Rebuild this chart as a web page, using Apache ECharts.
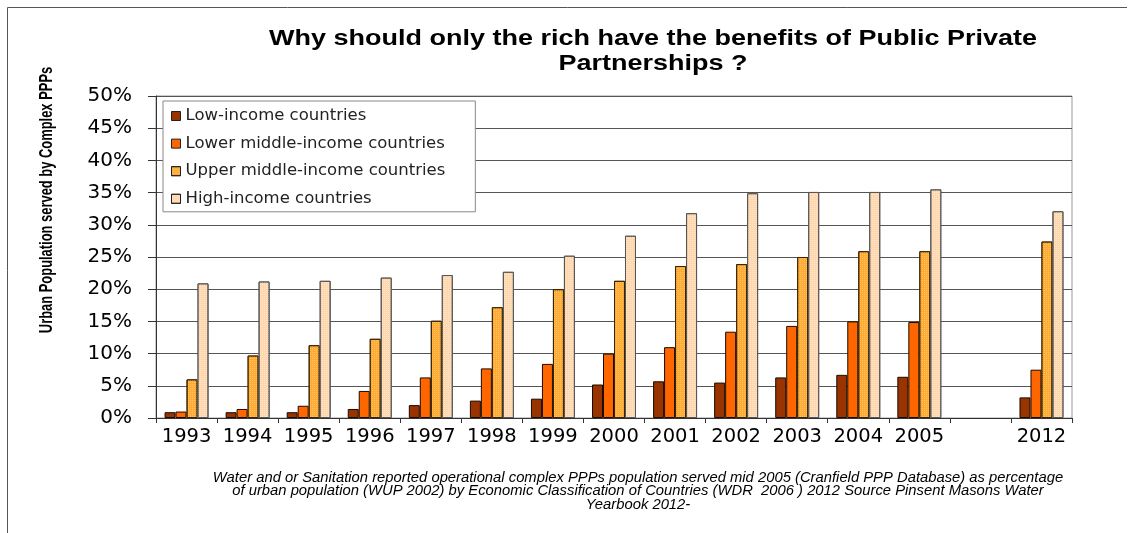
<!DOCTYPE html>
<html>
<head>
<meta charset="utf-8">
<script src="https://cdn.jsdelivr.net/npm/echarts@6/dist/echarts.min.js"></script>
<style>
  html, body { margin: 0; padding: 0; background: #fff; }
  #chart { width: 1131px; height: 533px; }
</style>
</head>
<body>
<div id="chart"></div>
<script>
// Years on the category axis; the blank entry leaves a gap before 2012
const years = ['1993', '1994', '1995', '1996', '1997', '1998', '1999', '2000',
               '2001', '2002', '2003', '2004', '2005', '', '2012'];

// Share of urban population served by complex PPPs (%), by income group
const lowIncome        = [0.9, 0.9, 0.9, 1.4, 2.0, 2.7, 3.0, 5.2, 5.7, 5.5, 6.3, 6.7, 6.4, null, 3.2];
const lowerMiddle      = [1.0, 1.4, 1.9, 4.2, 6.3, 7.7, 8.4, 10.0, 11.0, 13.4, 14.3, 15.0, 14.9, null, 7.5];
const upperMiddle      = [6.0, 9.7, 11.3, 12.3, 15.1, 17.2, 20.0, 21.3, 23.6, 23.9, 25.0, 25.9, 25.9, null, 27.4];
const highIncome       = [20.9, 21.2, 21.3, 21.8, 22.2, 22.7, 25.2, 28.3, 31.8, 34.9, 35.1, 35.1, 35.5, null, 32.1];

const seriesNames = ['Low-income countries', 'Lower middle-income countries',
                     'Upper middle-income countries', 'High-income countries'];

const yTicks = { min: 0, max: 50, interval: 5 };

const titleText = 'Why should only the rich have the benefits of Public Private\nPartnerships ?';
const yAxisTitle = 'Urban Population served by Complex PPPs';
const footnote = 'Water and or Sanitation reported operational complex PPPs population served mid 2005 (Cranfield PPP Database) as percentage\n' +
                 'of urban population (WUP 2002) by Economic Classification of Countries (WDR  2006 ) 2012 Source Pinsent Masons Water\n' +
                 'Yearbook 2012-';

const chart = echarts.init(document.getElementById('chart'), null, { renderer: 'canvas' });

function bar(name, data, color, border, decal) {
  const s = {
    name: name,
    type: 'bar',
    data: data,
    barGap: '0%',
    barCategoryGap: '28%',
    itemStyle: { color: color, borderColor: border, borderWidth: 1 }
  };
  if (decal) s.itemStyle.decal = decal;
  return s;
}

// fine speckle texture for the two lighter series
const dotDecal = (c) => ({
  symbol: 'rect',
  symbolSize: 1,
  dashArrayX: [1, 1],
  dashArrayY: [1, 1],
  color: c
});

const sans = 'Liberation Sans, Arial, sans-serif';
const wide = 'DejaVu Sans, Verdana, sans-serif';

chart.setOption({
  animation: false,
  backgroundColor: '#ffffff',
  legend: {
    orient: 'vertical',
    left: 163,
    top: 101,
    padding: [6, 30, 4, 8],
    itemWidth: 9,
    itemHeight: 9,
    itemGap: 9.6,
    itemStyle: { borderColor: '#222', borderWidth: 1 },
    icon: 'rect',
    backgroundColor: '#fff',
    borderColor: '#888',
    borderWidth: 1,
    textStyle: {
      fontFamily: wide,
      fontSize: 16.5,
      lineHeight: 18,
      color: '#222'
    },
    data: seriesNames
  },
  grid: {
    left: 156,
    right: 59,
    top: 96,
    bottom: 115,
    show: true,
    borderColor: '#999',
    borderWidth: 1
  },
  xAxis: {
    type: 'category',
    data: years,
    axisLine: { show: true, lineStyle: { color: '#333', width: 1 } },
    axisTick: { show: true, interval: 0, length: 5, lineStyle: { color: '#333' } },
    axisLabel: {
      interval: 0,
      margin: 9,
      fontFamily: wide,
      fontSize: 19.5,
      color: '#000'
    },
    splitLine: { show: false }
  },
  yAxis: {
    type: 'value',
    min: yTicks.min,
    max: yTicks.max,
    interval: yTicks.interval,
    axisLine: { show: true, lineStyle: { color: '#333', width: 1 } },
    axisTick: { show: true, length: 8, lineStyle: { color: '#333' } },
    axisLabel: {
      formatter: '{value}%',
      margin: 24,
      fontFamily: wide,
      fontSize: 20,
      color: '#000'
    },
    splitLine: { show: true, lineStyle: { color: '#555', width: 1 } }
  },
  series: [
    bar(seriesNames[0], lowIncome, '#993300', '#1a0a00'),
    bar(seriesNames[1], lowerMiddle, '#FF6600', '#1a0a00'),
    bar(seriesNames[2], upperMiddle, '#FFAA33', '#3a2400', dotDecal('rgba(255,214,140,0.55)')),
    bar(seriesNames[3], highIncome, '#FFD7AE', '#555', dotDecal('rgba(255,240,220,0.6)'))
  ],
  graphic: [
    // outer frame edges
    { type: 'line', shape: { x1: 7.5, y1: 7.5, x2: 1127, y2: 7.5 }, style: { stroke: '#555', lineWidth: 1 } },
    { type: 'line', shape: { x1: 7.5, y1: 7.5, x2: 7.5, y2: 533 }, style: { stroke: '#555', lineWidth: 1 } },
    // chart title, set wide
    {
      type: 'text',
      x: 653,
      y: 26,
      scaleX: 1.227,
      style: {
        text: titleText,
        fontFamily: sans,
        fontWeight: 'bold',
        fontSize: 22,
        lineHeight: 25,
        fill: '#000',
        align: 'center',
        verticalAlign: 'top'
      }
    },
    // vertical axis title, condensed along its length
    {
      type: 'text',
      x: 47,
      y: 200,
      rotation: Math.PI / 2,
      scaleX: 0.68,
      style: {
        text: yAxisTitle,
        fontFamily: sans,
        fontWeight: 'bold',
        fontSize: 19,
        fill: '#000',
        align: 'center',
        verticalAlign: 'middle'
      }
    },
    // source note
    {
      type: 'text',
      x: 638,
      y: 471,
      scaleX: 1.057,
      style: {
        text: footnote,
        fontFamily: sans,
        fontStyle: 'italic',
        fontSize: 14,
        lineHeight: 13.5,
        fill: '#000',
        align: 'center',
        verticalAlign: 'top'
      }
    }
  ]
});
</script>
</body>
</html>
